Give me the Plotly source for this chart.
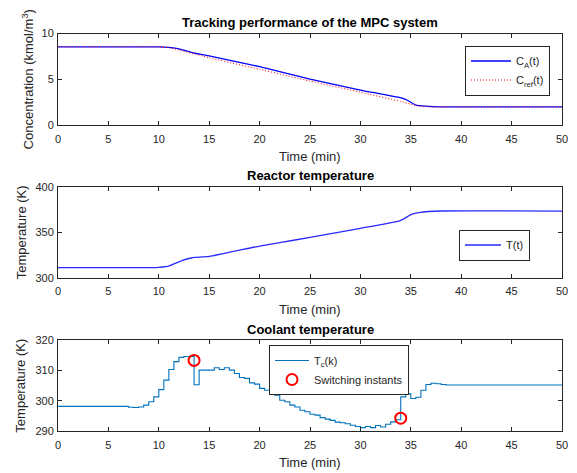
import plotly.graph_objects as go

W, H = 577, 473

# ---------------- data ----------------
t_ca = [0, 10, 11, 12.1, 13.2, 13.6, 15, 20, 25, 30, 34.2, 34.7, 35.5, 36.5, 37.9, 50]
ca = [8.55, 8.55, 8.48, 8.3, 7.95, 7.85, 7.57, 6.38, 5.04, 3.84, 2.93, 2.7, 2.2, 2.08, 2.0, 2.0]

t_cref = [0, 10, 11, 12, 15, 20, 25, 30, 34, 35, 36, 37, 50]
cref = [8.55, 8.55, 8.45, 8.2, 7.36, 6.1, 4.82, 3.6, 2.6, 2.3, 2.05, 2.0, 2.0]

t_T = [0, 9.5, 10, 11, 12.3, 13.2, 13.6, 15, 20, 22, 25, 30, 33.9, 34.4, 35, 35.4, 35.9, 37.9, 50]
T = [311.3, 311.3, 311.7, 313.1, 319, 321.9, 322.5, 323.6, 335, 338.7, 344.5, 354.4, 362.6,
     365.3, 369.5, 370.8, 371.9, 373.4, 373.3]

t_tc = [0, 7.0, 7.5, 8.0, 8.5, 9.0, 9.5, 10.0, 10.5, 11.0, 11.5, 12.0, 12.5, 13.0, 13.5,
        14.0, 14.5, 15.0, 15.5, 16.0, 16.5, 17.0, 17.5, 18.0, 18.5, 19.0, 19.5, 20.0,
        20.5, 21.0, 21.5, 22.0, 22.5, 23.0, 23.5, 24.0, 24.5, 25.0, 25.5, 26.0, 26.5,
        27.0, 27.5, 28.0, 28.5, 29.0, 29.5, 30.0, 30.5, 31.0, 31.5, 32.0, 32.5, 33.0,
        33.5, 34.0, 34.5, 35.0, 35.5, 36.0, 36.5, 37.0, 37.5, 38.0, 38.5, 50]
tc = [298.2, 297.9, 297.8, 298.0, 298.6, 299.7, 301.3, 303.7, 306.8, 310.3, 312.9, 314.3,
      314.6, 314.6, 305.3, 310.1, 310.1, 310.1, 310.9, 310.3, 310.9, 310.1, 309.0, 307.7,
      307.4, 305.9, 305.5, 304.1, 303.5, 302.4, 301.9, 300.2, 299.7, 298.6, 298.0, 296.9,
      296.4, 295.6, 295.3, 294.5, 294.0, 293.6, 293.0, 292.8, 292.5, 292.0, 291.6, 291.2,
      291.6, 291.2, 291.9, 291.4, 292.3, 293.1, 293.8, 301.3, 302.3, 300.8, 301.2, 303.5,
      305.4, 305.8, 305.6, 305.4, 305.2, 305.2]

t_sw = [13.5, 34.0]
tc_sw = [313.3, 294.3]

x_ticks = [0, 5, 10, 15, 20, 25, 30, 35, 40, 45, 50]

# ---------------- layout helpers ----------------
def px(x):
    return x / W

def py(y):
    return 1 - y / H

X0, X1 = 58, 562
boxes = {  # top, bottom pixel rows
    1: (33.5, 125.3),
    2: (186.7, 278.0),
    3: (340.0, 431.3),
}
TXT = "#262626"
FONT = "Liberation Sans, Arial, sans-serif"

fig = go.Figure()

fig.add_trace(go.Scatter(x=t_ca, y=ca, mode="lines", name="C<sub>A</sub>(t)",
                         line=dict(color="#0000FF", width=1.3, shape="spline", smoothing=0.4),
                         xaxis="x", yaxis="y", legend="legend"))
fig.add_trace(go.Scatter(x=t_cref, y=cref, mode="lines", name="C<sub>ref</sub>(t)",
                         line=dict(color="#FF0000", width=1, dash="1px,2px", shape="spline", smoothing=0.4),
                         xaxis="x", yaxis="y", legend="legend"))
fig.add_trace(go.Scatter(x=t_T, y=T, mode="lines", name="T(t)",
                         line=dict(color="#2a2aFF", width=1.3, shape="spline", smoothing=0.4),
                         xaxis="x2", yaxis="y2", legend="legend2"))
fig.add_trace(go.Scatter(x=t_tc, y=tc, mode="lines", name="T<sub>c</sub>(k)",
                         line=dict(color="#0072BD", width=1.1, shape="hv"),
                         xaxis="x3", yaxis="y3", legend="legend3"))
fig.add_trace(go.Scatter(x=t_sw, y=tc_sw, mode="markers", name="Switching instants",
                         marker=dict(symbol="circle-open", size=11, color="#FF0000",
                                     line=dict(width=2, color="#FF0000")),
                         xaxis="x3", yaxis="y3", legend="legend3"))

axis_common = dict(showline=True, linecolor=TXT, linewidth=1, mirror="ticks",
                   ticks="inside", ticklen=4, tickcolor=TXT, tickwidth=1,
                   showgrid=False, zeroline=False, automargin=False,
                   tickfont=dict(family=FONT, size=11, color=TXT))

yranges = {1: ([0, 10], [0, 5, 10]), 2: ([300, 400], [300, 350, 400]),
           3: ([290, 320], [290, 300, 310, 320])}

layout = dict(width=W, height=H, margin=dict(l=0, r=0, t=0, b=0, autoexpand=False),
              paper_bgcolor="white", plot_bgcolor="white", showlegend=True,
              font=dict(family=FONT, color=TXT))
for i in (1, 2, 3):
    top, bot = boxes[i]
    sfx = "" if i == 1 else str(i)
    layout["xaxis" + sfx] = dict(axis_common, domain=[px(X0), px(X1)], range=[0, 50],
                                 tickvals=x_ticks, anchor="y" + sfx, ticklabelstandoff=3)
    layout["yaxis" + sfx] = dict(axis_common, domain=[py(bot), py(top)],
                                 range=yranges[i][0], tickvals=yranges[i][1],
                                 anchor="x" + sfx, ticklabelstandoff=1)

leg_common = dict(bgcolor="white", bordercolor=TXT, borderwidth=1,
                  font=dict(family=FONT, size=11, color=TXT), xanchor="right",
                  yanchor="top", tracegroupgap=0)
layout["legend"] = dict(leg_common, x=px(550), y=py(45.5), itemwidth=40)
layout["legend2"] = dict(leg_common, x=px(530), y=py(229.5), itemwidth=36)
layout["legend3"] = dict(leg_common, x=px(409), y=py(345), itemwidth=34)

fig.update_layout(**layout)

titles = {1: "Tracking performance of the MPC system", 2: "Reactor temperature",
          3: "Coolant temperature"}
ylabels = {1: ("Concentration (kmol/m<sup>3</sup>)", 28), 2: ("Temperature (K)", 21),
           3: ("Temperature (K)", 21)}
for i in (1, 2, 3):
    top, bot = boxes[i]
    fig.add_annotation(x=px((X0 + X1) / 2), y=py(top - 11), xref="paper", yref="paper",
                       text="<b>" + titles[i] + "</b>", showarrow=False,
                       font=dict(family=FONT, size=13, color="black"),
                       xanchor="center", yanchor="middle")
    fig.add_annotation(x=px((X0 + X1) / 2), y=py(bot + 31), xref="paper", yref="paper",
                       text="Time (min)", showarrow=False,
                       font=dict(family=FONT, size=13, color=TXT),
                       xanchor="center", yanchor="middle")
    fig.add_annotation(x=px(ylabels[i][1]), y=py((top + bot) / 2), xref="paper", yref="paper",
                       text=ylabels[i][0], showarrow=False, textangle=-90,
                       font=dict(family=FONT, size=13, color=TXT),
                       xanchor="center", yanchor="middle")

fig.write_html("out.html", config={"displayModeBar": False},
               post_script="document.body.style.margin='0';document.body.style.overflow='hidden';")
